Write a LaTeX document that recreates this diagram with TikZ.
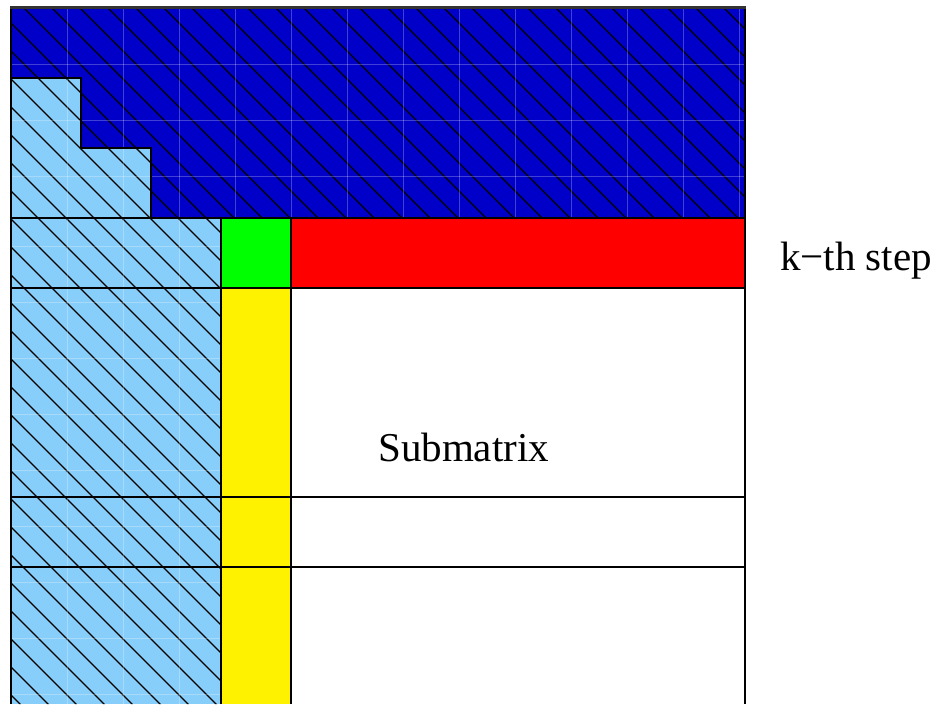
\documentclass[tikz,border=0pt]{standalone}
\usepackage{fontspec}
\setmainfont{Liberation Serif}
\definecolor{dblue}{RGB}{0,0,200}
\definecolor{lblue}{RGB}{135,206,250}
\begin{document}
\begin{tikzpicture}[x=1pt,y=-1pt,
  edge/.style={black,line width=1.4pt},
  hatch/.style={black,line width=1.3pt},
  gridl/.style={white,opacity=0.25,line width=0.9pt},
  lbl/.style={anchor=base west,inner sep=0pt,font=\fontsize{41}{48}\selectfont}]
\useasboundingbox (0,0) rectangle (939,704);
% fills
\fill[dblue] (11,8) rectangle (745,218);
\fill[lblue] (11,78) -- (81,78) -- (81,148) -- (151,148) -- (151,218) -- (11,218) -- cycle;
\fill[lblue] (11,218) rectangle (221,704);
\fill[green] (221,218) rectangle (291,288);
\fill[red] (291,218) rectangle (745,288);
\fill[yellow] (221,288) rectangle (291,704);
% hatching
\begin{scope}
\clip (11,8) -- (745,8) -- (745,218) -- (221,218) -- (221,704) -- (11,704) -- cycle;
\foreach \c in {-712,-684,...,744} \draw[hatch] (\c,0) -- (\c+720,720);
% faint grid
\foreach \x in {67.7,123.7,...,740} \draw[gridl] (\x,8) -- (\x,218);
\foreach \y in {64,120,176} \draw[gridl] (11,\y) -- (745,\y);
\foreach \x in {67.7,123.7,179.7} \draw[gridl] (\x,218) -- (\x,704);
\foreach \y in {246.7,302.7,...,700} \draw[gridl] (11,\y) -- (221,\y);
\end{scope}
% borders
\draw[edge] (11,78) -- (81,78) -- (81,148) -- (151,148) -- (151,218);
\draw[edge] (11,218) -- (745,218);
\draw[edge] (11,288) -- (745,288);
\draw[edge] (11,497) -- (745,497);
\draw[edge] (11,567) -- (745,567);
\draw[edge] (221,218) -- (221,704);
\draw[edge] (291,218) -- (291,704);
\draw[edge] (745,8) -- (745,704);
\draw[edge] (11,8) -- (11,704);
\draw[line width=2.2pt,black!80] (10,7.5) -- (746,7.5);
% labels
\node[lbl] (step) at (780,270) {k−th step};
\node[lbl] (sub) at (378,461) {Submatrix};
\end{tikzpicture}
\end{document}
